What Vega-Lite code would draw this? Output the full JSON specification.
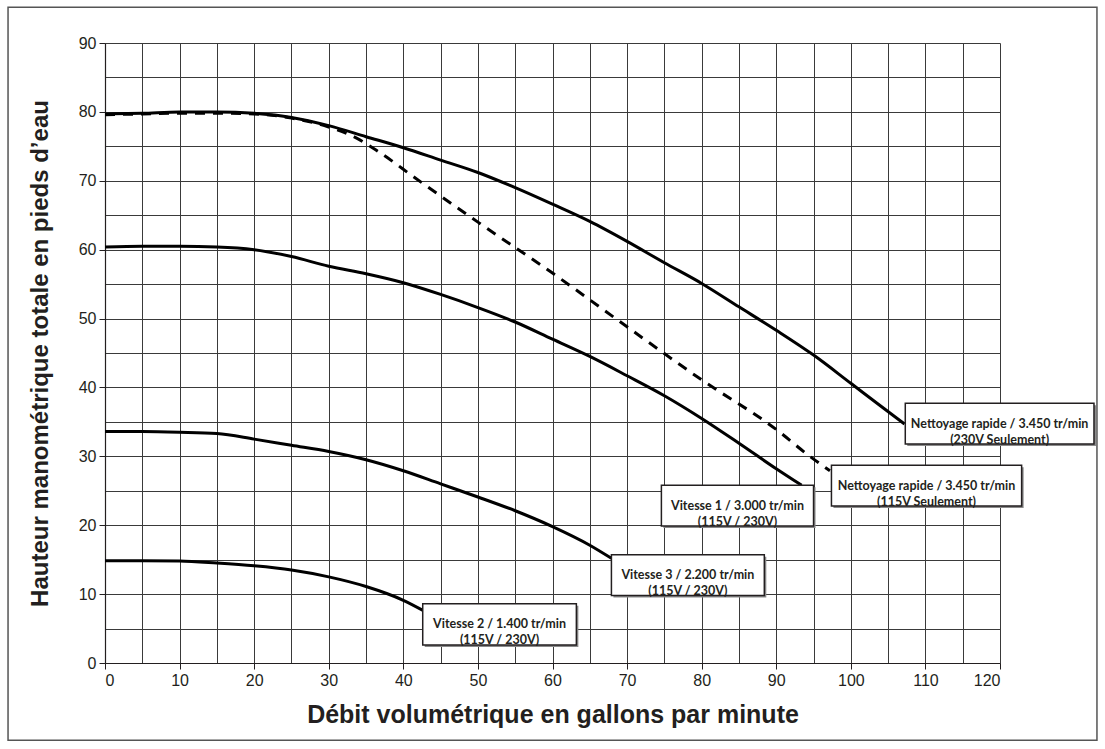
{
  "$schema": "https://vega.github.io/schema/vega-lite/v6.json",
  "width": 895,
  "height": 620,
  "autosize": {"type": "none"},
  "padding": {"left": 105, "top": 43, "right": 105, "bottom": 86},
  "background": "white",
  "config": {
    "view": {"stroke": null},
    "axis": {
      "labelFont": "Liberation Sans",
      "labelFontSize": 16,
      "labelColor": "#231f20",
      "titleFont": "Liberation Sans",
      "titleFontWeight": "bold",
      "titleColor": "#231f20",
      "gridColor": "#3a3a3a",
      "gridWidth": 1,
      "gridOpacity": 1,
      "domainColor": "#231f20",
      "domainWidth": 1.2,
      "tickColor": "#231f20",
      "tickSize": 6,
      "labelPadding": 3
    }
  },
  "resolve": {"axis": {"x": "independent", "y": "independent"}},
  "datasets": {
    "curves": [
      {"s": "n230", "x": 0, "y": 79.7}, {"s": "n230", "x": 5, "y": 79.8}, {"s": "n230", "x": 10, "y": 80.0}, {"s": "n230", "x": 15, "y": 80.0}, {"s": "n230", "x": 20, "y": 79.8}, {"s": "n230", "x": 25, "y": 79.2}, {"s": "n230", "x": 30, "y": 78.0}, {"s": "n230", "x": 35, "y": 76.4}, {"s": "n230", "x": 40, "y": 74.8}, {"s": "n230", "x": 45, "y": 73.0}, {"s": "n230", "x": 50, "y": 71.2}, {"s": "n230", "x": 55, "y": 69.0}, {"s": "n230", "x": 60, "y": 66.6}, {"s": "n230", "x": 65, "y": 64.1}, {"s": "n230", "x": 70, "y": 61.2}, {"s": "n230", "x": 75, "y": 58.1}, {"s": "n230", "x": 80, "y": 55.1}, {"s": "n230", "x": 85, "y": 51.7}, {"s": "n230", "x": 90, "y": 48.3}, {"s": "n230", "x": 95, "y": 44.7}, {"s": "n230", "x": 100, "y": 40.6}, {"s": "n230", "x": 104, "y": 37.3}, {"s": "n230", "x": 107.2, "y": 34.7},
      {"s": "n115", "x": 0, "y": 79.6}, {"s": "n115", "x": 5, "y": 79.7}, {"s": "n115", "x": 10, "y": 79.8}, {"s": "n115", "x": 15, "y": 79.8}, {"s": "n115", "x": 20, "y": 79.7}, {"s": "n115", "x": 25, "y": 79.1}, {"s": "n115", "x": 30, "y": 77.8}, {"s": "n115", "x": 33, "y": 76.6}, {"s": "n115", "x": 36.7, "y": 74.2}, {"s": "n115", "x": 41.6, "y": 70.4}, {"s": "n115", "x": 50, "y": 64.0}, {"s": "n115", "x": 60, "y": 56.6}, {"s": "n115", "x": 70, "y": 48.8}, {"s": "n115", "x": 80, "y": 41.1}, {"s": "n115", "x": 90, "y": 33.9}, {"s": "n115", "x": 94.5, "y": 30.0}, {"s": "n115", "x": 97.2, "y": 27.9},
      {"s": "v1", "x": 0, "y": 60.4}, {"s": "v1", "x": 5, "y": 60.5}, {"s": "v1", "x": 10, "y": 60.5}, {"s": "v1", "x": 15, "y": 60.4}, {"s": "v1", "x": 20, "y": 60.0}, {"s": "v1", "x": 25, "y": 59.0}, {"s": "v1", "x": 30, "y": 57.6}, {"s": "v1", "x": 35, "y": 56.5}, {"s": "v1", "x": 40, "y": 55.2}, {"s": "v1", "x": 45, "y": 53.5}, {"s": "v1", "x": 50, "y": 51.6}, {"s": "v1", "x": 55, "y": 49.5}, {"s": "v1", "x": 60, "y": 47.0}, {"s": "v1", "x": 65, "y": 44.5}, {"s": "v1", "x": 70, "y": 41.7}, {"s": "v1", "x": 75, "y": 38.8}, {"s": "v1", "x": 80, "y": 35.5}, {"s": "v1", "x": 85, "y": 31.9}, {"s": "v1", "x": 90, "y": 28.2}, {"s": "v1", "x": 93.4, "y": 25.8},
      {"s": "v3", "x": 0, "y": 33.6}, {"s": "v3", "x": 5, "y": 33.6}, {"s": "v3", "x": 10, "y": 33.5}, {"s": "v3", "x": 15, "y": 33.3}, {"s": "v3", "x": 20, "y": 32.5}, {"s": "v3", "x": 25, "y": 31.6}, {"s": "v3", "x": 30, "y": 30.7}, {"s": "v3", "x": 35, "y": 29.5}, {"s": "v3", "x": 40, "y": 27.9}, {"s": "v3", "x": 45, "y": 26.0}, {"s": "v3", "x": 50, "y": 24.1}, {"s": "v3", "x": 55, "y": 22.1}, {"s": "v3", "x": 60, "y": 19.8}, {"s": "v3", "x": 65, "y": 17.1}, {"s": "v3", "x": 67.9, "y": 15.2},
      {"s": "v2", "x": 0, "y": 14.85}, {"s": "v2", "x": 5, "y": 14.85}, {"s": "v2", "x": 10, "y": 14.8}, {"s": "v2", "x": 15, "y": 14.5}, {"s": "v2", "x": 20, "y": 14.1}, {"s": "v2", "x": 25, "y": 13.5}, {"s": "v2", "x": 30, "y": 12.5}, {"s": "v2", "x": 35, "y": 11.1}, {"s": "v2", "x": 40, "y": 9.1}, {"s": "v2", "x": 42.7, "y": 7.6}
    ],
    "labels": [
      {"id": "n230", "x1": 107.3, "x2": 132.6, "y1": 37.7, "y2": 31.8, "cx": 119.95, "cy": 34.75, "t": "Nettoyage rapide / 3.450 tr/min\n(230V Seulement)"},
      {"id": "n115", "x1": 97.4, "x2": 122.9, "y1": 28.7, "y2": 22.8, "cx": 110.15, "cy": 25.75, "t": "Nettoyage rapide / 3.450 tr/min\n(115V Seulement)"},
      {"id": "v1", "x1": 74.6, "x2": 95.0, "y1": 25.8, "y2": 19.9, "cx": 84.8, "cy": 22.85, "t": "Vitesse 1 / 3.000 tr/min\n(115V / 230V)"},
      {"id": "v3", "x1": 67.9, "x2": 88.4, "y1": 15.7, "y2": 9.8, "cx": 78.15, "cy": 12.75, "t": "Vitesse 3 / 2.200 tr/min\n(115V / 230V)"},
      {"id": "v2", "x1": 42.6, "x2": 63.2, "y1": 8.6, "y2": 2.6, "cx": 52.9, "cy": 5.6, "t": "Vitesse 2 / 1.400 tr/min\n(115V / 230V)"}
    ],
    "frame": [
      {"x1": -13.0, "x2": 133.0, "y1": 95.2, "y2": -11.2}
    ]
  },
  "layer": [
    {
      "data": {"name": "curves"},
      "transform": [{"filter": "datum.s !== 'n115'"}],
      "mark": {"type": "line", "color": "black", "strokeWidth": 3, "interpolate": "monotone"},
      "encoding": {
        "x": {
          "field": "x", "type": "quantitative",
          "scale": {"domain": [0, 120], "nice": false, "zero": false},
          "axis": {
            "orient": "bottom",
            "title": null,
            "values": [0, 5, 10, 15, 20, 25, 30, 35, 40, 45, 50, 55, 60, 65, 70, 75, 80, 85, 90, 95, 100, 105, 110, 115, 120],
            "grid": true,
            "labels": false,
            "ticks": false,
            "domain": false
          }
        },
        "y": {
          "field": "y", "type": "quantitative",
          "scale": {"domain": [0, 90], "nice": false, "zero": false},
          "axis": {
            "orient": "left",
            "title": null,
            "values": [0, 5, 10, 15, 20, 25, 30, 35, 40, 45, 50, 55, 60, 65, 70, 75, 80, 85, 90],
            "grid": true,
            "labels": false,
            "ticks": false,
            "domain": false
          }
        },
        "detail": {"field": "s"}
      }
    },
    {
      "data": {"name": "curves"},
      "transform": [{"filter": "datum.s === 'n115'"}],
      "mark": {"type": "line", "color": "black", "strokeWidth": 3, "strokeDash": [10, 8], "interpolate": "monotone"},
      "encoding": {
        "x": {
          "field": "x", "type": "quantitative",
          "axis": {
            "orient": "bottom",
            "title": "Débit volumétrique en gallons par minute",
            "titleFontSize": 25,
            "values": [0, 10, 20, 30, 40, 50, 60, 70, 80, 90, 100, 110, 120],
            "grid": false,
            "titlePadding": 14
          }
        },
        "y": {
          "field": "y", "type": "quantitative",
          "axis": {
            "orient": "left",
            "title": "Hauteur manométrique totale en pieds d’eau",
            "titleFontSize": 24,
            "values": [0, 10, 20, 30, 40, 50, 60, 70, 80, 90],
            "grid": false,
            "titlePadding": 26
          }
        }
      }
    },
    {
      "data": {"name": "labels"},
      "mark": {"type": "rect", "fill": "#8a8a8a", "xOffset": 2, "x2Offset": 2, "yOffset": 2, "y2Offset": 2},
      "encoding": {
        "x": {"field": "x1", "type": "quantitative", "axis": null},
        "x2": {"field": "x2"},
        "y": {"field": "y1", "type": "quantitative", "axis": null},
        "y2": {"field": "y2"}
      }
    },
    {
      "data": {"name": "labels"},
      "mark": {"type": "rect", "fill": "white", "stroke": "#231f20", "strokeWidth": 1.5},
      "encoding": {
        "x": {"field": "x1", "type": "quantitative", "axis": null},
        "x2": {"field": "x2"},
        "y": {"field": "y1", "type": "quantitative", "axis": null},
        "y2": {"field": "y2"}
      }
    },
    {
      "data": {"name": "labels"},
      "mark": {"type": "text", "lineBreak": "\n", "lineHeight": 16, "align": "center", "baseline": "middle", "font": "Liberation Sans Narrow, Lato", "fontWeight": "bold", "fontSize": 12.5, "color": "#231f20"},
      "encoding": {
        "x": {"field": "cx", "type": "quantitative", "axis": null},
        "y": {"field": "cy", "type": "quantitative", "axis": null},
        "text": {"field": "t"}
      }
    },
    {
      "data": {"name": "frame"},
      "mark": {"type": "rect", "fill": null, "fillOpacity": 0, "stroke": "#555555", "strokeWidth": 1.5},
      "encoding": {
        "x": {"field": "x1", "type": "quantitative", "axis": null},
        "x2": {"field": "x2"},
        "y": {"field": "y1", "type": "quantitative", "axis": null},
        "y2": {"field": "y2"}
      }
    }
  ]
}
